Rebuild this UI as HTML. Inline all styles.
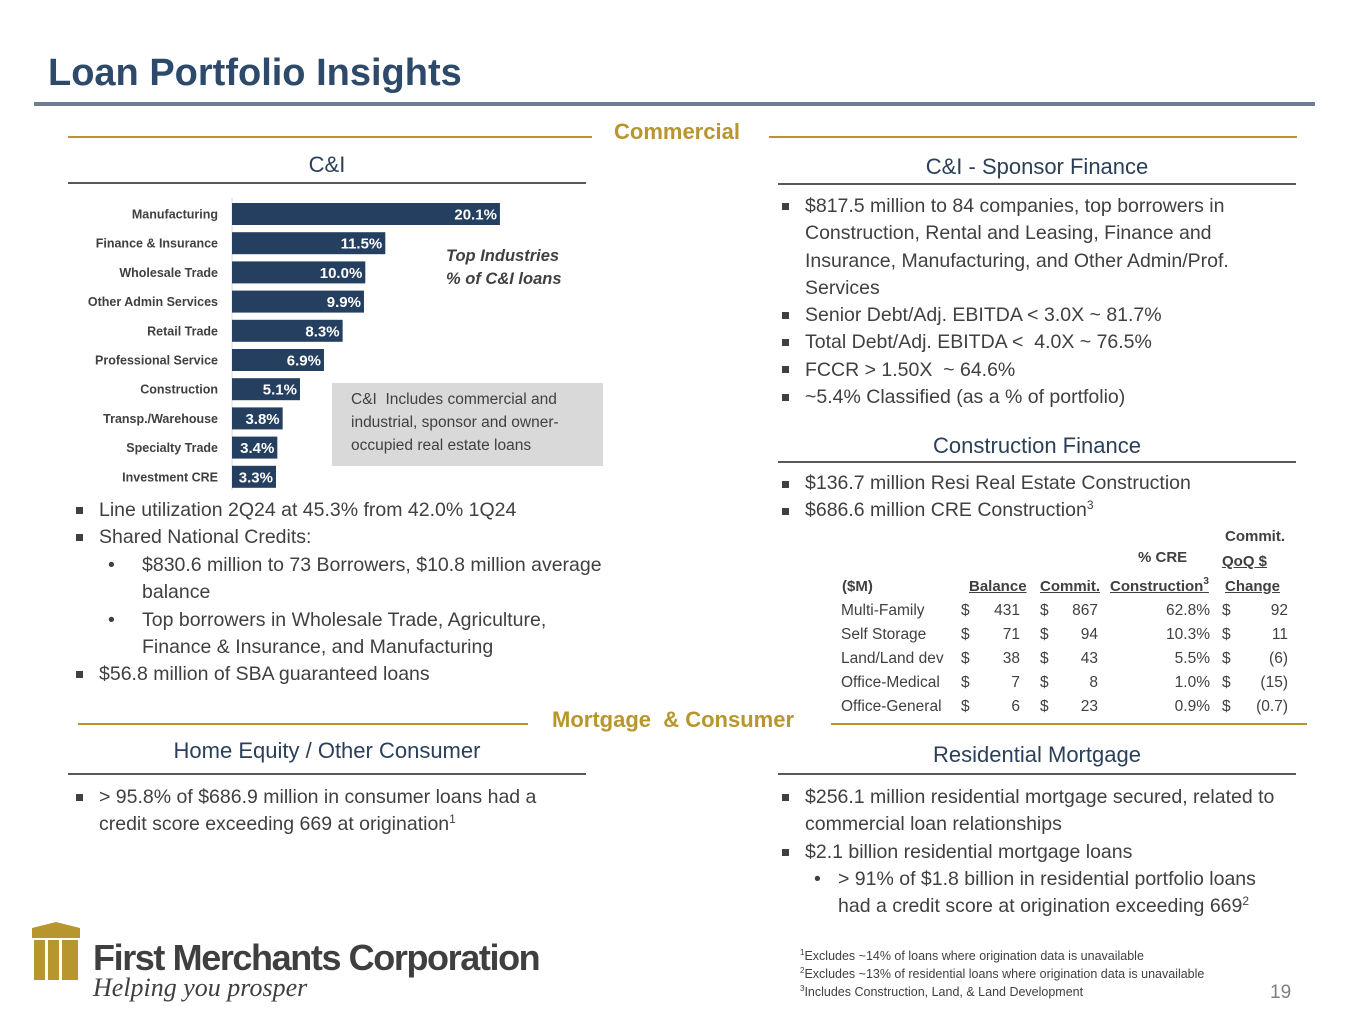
<!DOCTYPE html>
<html><head><meta charset="utf-8">
<style>
body{margin:0;width:1365px;height:1024px;background:#fff;position:relative;overflow:hidden;font-family:"Liberation Sans",sans-serif;color:#404040}
.a{position:absolute;white-space:nowrap}
.hl{position:absolute;height:2px;background:#595959}
.gl{position:absolute;height:2px;background:#b8962e}
.sec{position:absolute;font-size:22px;color:#2a3f5a;text-align:center}
.gold{color:#b8962e;font-weight:bold;font-size:22px}
.b{font-size:19.5px;line-height:27.3px;color:#404040}
.sq{position:absolute;width:7px;height:7px;background:#404040}
sup{font-size:12px;line-height:0;vertical-align:7px}
.t{position:absolute;font-size:15.5px;color:#404040;white-space:nowrap}
.r{text-align:right}
</style></head><body>
<div class="a" style="left:48px;top:52px;font-size:38px;font-weight:bold;color:#2e4a6b">Loan Portfolio Insights</div>
<div class="hl" style="left:34px;top:102px;width:1281px;height:4px;background:#6b7f94"></div>

<div class="gl" style="left:68px;top:136px;width:524px"></div>
<div class="a gold" style="left:614px;top:119px">Commercial</div>
<div class="gl" style="left:769px;top:136px;width:528px"></div>

<div class="sec" style="left:68px;top:152px;width:518px">C&amp;I</div>
<div class="hl" style="left:68px;top:182px;width:518px"></div>
<div class="sec" style="left:778px;top:154px;width:518px">C&amp;I - Sponsor Finance</div>
<div class="hl" style="left:778px;top:183px;width:518px"></div>

<svg id="chart" class="a" style="left:0;top:190px" width="620" height="310"></svg>
<div class="a" style="left:446px;top:245px;font-size:16.5px;font-style:italic;font-weight:bold;color:#404040;line-height:23px">Top Industries<br>% of C&amp;I loans</div>
<div class="a" style="left:332px;top:383px;width:252px;height:78px;background:#d9d9d9;padding:5px 0 0 19px;font-size:15.5px;line-height:23px;color:#404040;white-space:normal">C&amp;I&nbsp; Includes commercial and industrial, sponsor and owner-occupied real estate loans</div>

<div class="a b" style="left:99px;top:497px">Line utilization 2Q24 at 45.3% from 42.0% 1Q24<br>Shared National Credits:</div>
<div class="sq" style="left:76px;top:507px"></div>
<div class="sq" style="left:76px;top:534px"></div>
<div class="a b" style="left:142px;top:552px">$830.6 million to 73 Borrowers, $10.8 million average<br>balance<br>Top borrowers in Wholesale Trade, Agriculture,<br>Finance &amp; Insurance, and Manufacturing</div>
<div class="a b" style="left:108px;top:552px">•</div>
<div class="a b" style="left:108px;top:607px">•</div>
<div class="a b" style="left:99px;top:661px">$56.8 million of SBA guaranteed loans</div>
<div class="sq" style="left:76px;top:671px"></div>

<div class="a b" style="left:805px;top:193px">$817.5 million to 84 companies, top borrowers in<br>Construction, Rental and Leasing, Finance and<br>Insurance, Manufacturing, and Other Admin/Prof.<br>Services<br>Senior Debt/Adj. EBITDA &lt; 3.0X ~ 81.7%<br>Total Debt/Adj. EBITDA &lt;&nbsp; 4.0X ~ 76.5%<br>FCCR &gt; 1.50X&nbsp; ~ 64.6%<br>~5.4% Classified (as a % of portfolio)</div>
<div class="sq" style="left:782px;top:203px"></div>
<div class="sq" style="left:782px;top:312px"></div>
<div class="sq" style="left:782px;top:339px"></div>
<div class="sq" style="left:782px;top:366px"></div>
<div class="sq" style="left:782px;top:394px"></div>

<div class="sec" style="left:778px;top:433px;width:518px">Construction Finance</div>
<div class="hl" style="left:778px;top:461px;width:518px"></div>
<div class="a b" style="left:805px;top:470px">$136.7 million Resi Real Estate Construction<br>$686.6 million CRE Construction<sup>3</sup></div>
<div class="sq" style="left:782px;top:481px"></div>
<div class="sq" style="left:782px;top:508px"></div>

<div class="a" style="left:0;top:0;font-size:15px;font-weight:bold;color:#404040">
<span class="a" style="left:1225px;top:528px">Commit.</span>
<span class="a" style="left:1138px;top:549px">% CRE</span>
<span class="a" style="left:1222px;top:553px;text-decoration:underline">QoQ $</span>
<span class="a" style="left:842px;top:578px">($M)</span>
<span class="a" style="left:969px;top:578px;text-decoration:underline">Balance</span>
<span class="a" style="left:1040px;top:578px;text-decoration:underline">Commit.</span>
<span class="a" style="left:1110px;top:578px;text-decoration:underline">Construction<sup style="font-size:10px">3</sup></span>
<span class="a" style="left:1225px;top:578px;text-decoration:underline">Change</span>
</div>
<div id="tbl"></div>
<script>
const rows=[["Multi-Family","431","867","62.8%","92"],["Self Storage","71","94","10.3%","11"],["Land/Land dev","38","43","5.5%","(6)"],["Office-Medical","7","8","1.0%","(15)"],["Office-General","6","23","0.9%","(0.7)"]];
let h='';
rows.forEach((r,i)=>{const y=602+i*24;
h+=`<div class="t" style="left:841px;top:${y}px">${r[0]}</div><div class="t" style="left:961px;top:${y}px">$</div><div class="t r" style="left:960px;width:60px;top:${y}px">${r[1]}</div><div class="t" style="left:1040px;top:${y}px">$</div><div class="t r" style="left:1038px;width:60px;top:${y}px">${r[2]}</div><div class="t r" style="left:1130px;width:80px;top:${y}px">${r[3]}</div><div class="t" style="left:1222px;top:${y}px">$</div><div class="t r" style="left:1228px;width:60px;top:${y}px">${r[4]}</div>`;});
document.getElementById('tbl').innerHTML=h;
</script>

<div class="gl" style="left:78px;top:723px;width:450px"></div>
<div class="a gold" style="left:552px;top:707px">Mortgage&nbsp; &amp; Consumer</div>
<div class="gl" style="left:831px;top:723px;width:476px"></div>

<div class="sec" style="left:68px;top:738px;width:518px">Home Equity / Other Consumer</div>
<div class="hl" style="left:68px;top:773px;width:518px"></div>
<div class="sec" style="left:778px;top:742px;width:518px">Residential Mortgage</div>
<div class="hl" style="left:778px;top:773px;width:518px"></div>

<div class="a b" style="left:99px;top:784px">&gt; 95.8% of $686.9 million in consumer loans had a<br>credit score exceeding 669 at origination<sup>1</sup></div>
<div class="sq" style="left:76px;top:794px"></div>
<div class="a b" style="left:805px;top:784px">$256.1 million residential mortgage secured, related to<br>commercial loan relationships<br>$2.1 billion residential mortgage loans</div>
<div class="sq" style="left:782px;top:794px"></div>
<div class="sq" style="left:782px;top:849px"></div>
<div class="a b" style="left:814px;top:866px">•</div>
<div class="a b" style="left:838px;top:866px">&gt; 91% of $1.8 billion in residential portfolio loans<br>had a credit score at origination exceeding 669<sup>2</sup></div>

<div class="a" style="left:800px;top:947px;font-size:12.5px;line-height:18px;color:#404040"><sup style="font-size:8px;vertical-align:5px">1</sup>Excludes ~14% of loans where origination data is unavailable<br><sup style="font-size:8px;vertical-align:5px">2</sup>Excludes ~13% of residential loans where origination data is unavailable<br><sup style="font-size:8px;vertical-align:5px">3</sup>Includes Construction, Land, &amp; Land Development</div>
<div class="a" style="left:1270px;top:982px;font-size:19px;color:#7f7f7f">19</div>

<svg class="a" style="left:28px;top:922px" width="60" height="60">
<polygon points="4,6 28,0 52,6 52,16 4,16" fill="#b8962e"/>
<rect x="6" y="18" width="44" height="40" fill="#b8962e"/>
<rect x="17" y="18" width="3" height="40" fill="#fff"/><rect x="31" y="18" width="3" height="40" fill="#fff"/>
</svg>
<div class="a" style="left:93px;top:937px;font-size:36px;font-weight:bold;color:#3f3f3f;letter-spacing:-1.4px">First Merchants Corporation</div>
<div class="a" style="left:93px;top:973px;font-size:26px;font-style:italic;font-family:'Liberation Serif',serif;color:#3f3f3f">Helping you prosper</div>

<script>
const categories=["Manufacturing","Finance & Insurance","Wholesale Trade","Other Admin Services","Retail Trade","Professional Service","Construction","Transp./Warehouse","Specialty Trade","Investment CRE"];
const shares=[20.1,11.5,10.0,9.9,8.3,6.9,5.1,3.8,3.4,3.3];
const labels=["20.1%","11.5%","10.0%","9.9%","8.3%","6.9%","5.1%","3.8%","3.4%","3.3%"];
const svg=document.getElementById('chart');
const NS='http://www.w3.org/2000/svg';
const x0=232, pxPer=13.33, top0=13, step=29.2, bh=22;
const xs=v=>x0+v*pxPer;
const ys=i=>top0+i*step;
const ax=document.createElementNS(NS,'line');


ax.setAttribute('x1',x0);ax.setAttribute('x2',x0);ax.setAttribute('y1',8);ax.setAttribute('y2',300);ax.setAttribute('stroke','#d9d9d9');
svg.appendChild(ax);
categories.forEach((c,i)=>{
 const r=document.createElementNS(NS,'rect');
 
 
 r.setAttribute('x',x0);r.setAttribute('y',ys(i));r.setAttribute('width',xs(shares[i])-x0);r.setAttribute('height',bh);r.setAttribute('fill','#243f60');
 svg.appendChild(r);
 const t=document.createElementNS(NS,'text');
 
 
 t.setAttribute('x',218);t.setAttribute('y',ys(i)+bh/2+4.5);t.setAttribute('text-anchor','end');t.setAttribute('font-size','12.5');t.setAttribute('font-weight','bold');t.setAttribute('fill','#404040');t.setAttribute('font-family','Liberation Sans, sans-serif');
 t.textContent=c;svg.appendChild(t);
 const v=document.createElementNS(NS,'text');
 
 
 v.setAttribute('x',xs(shares[i])-3);v.setAttribute('y',ys(i)+bh/2+5.5);v.setAttribute('text-anchor','end');v.setAttribute('font-size','15');v.setAttribute('font-weight','bold');v.setAttribute('fill','#fff');v.setAttribute('font-family','Liberation Sans, sans-serif');
 v.textContent=labels[i];svg.appendChild(v);
});
</script>
</body></html>
